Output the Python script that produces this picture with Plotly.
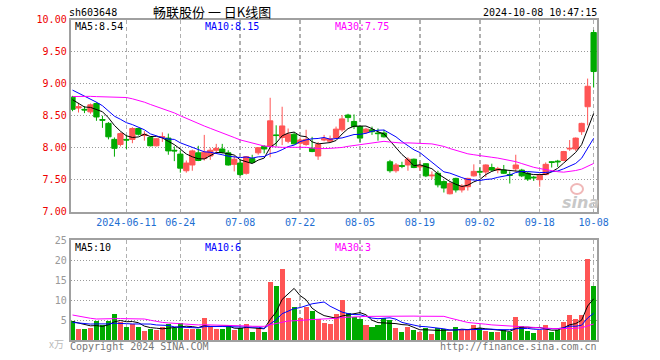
import plotly.graph_objects as go
import pandas as pd

W, H = 660, 360

# ---------------- data ----------------
holidays = ["2024-06-10", "2024-09-16", "2024-09-17", "2024-10-01", "2024-10-02",
            "2024-10-03", "2024-10-04", "2024-10-07"]
dates = [d.strftime("%Y-%m-%d") for d in pd.bdate_range("2024-05-28", "2024-10-08")
         if d.strftime("%Y-%m-%d") not in holidays]

opens = [8.79, 8.62, 8.60, 8.56, 8.69, 8.44, 8.38, 8.13, 8.05, 8.13,
         8.13, 8.30, 8.19, 8.16, 8.03, 8.16, 8.15, 7.96, 7.90, 7.64,
         7.73, 7.92, 7.83, 7.87, 7.96, 7.98, 7.92, 7.74, 7.76, 7.60,
         7.83, 7.92, 8.02, 8.02, 8.20, 8.16, 8.10, 8.21, 8.07, 8.05,
         7.99, 7.87, 8.12, 8.10, 8.15, 8.28, 8.51, 8.41, 8.33, 8.24,
         8.28, 8.23, 8.23, 7.78, 7.64, 7.72, 7.73, 7.82, 7.70, 7.75,
         7.56, 7.60, 7.47, 7.28, 7.52, 7.34, 7.39, 7.56, 7.63, 7.62,
         7.69, 7.65, 7.65, 7.58, 7.67, 7.65, 7.60, 7.54, 7.50, 7.58,
         7.78, 7.79, 7.80, 7.98, 7.98, 8.25, 8.64, 9.80]
highs = [8.81, 8.70, 8.65, 8.69, 8.71, 8.50, 8.40, 8.16, 8.24, 8.20,
         8.32, 8.31, 8.26, 8.18, 8.15, 8.24, 8.22, 8.02, 7.96, 7.80,
         7.97, 8.03, 8.20, 8.00, 8.06, 8.06, 7.96, 7.87, 7.82, 7.87,
         7.89, 8.01, 8.04, 8.78, 8.35, 8.64, 8.30, 8.24, 8.16, 8.28,
         8.17, 8.09, 8.20, 8.19, 8.33, 8.51, 8.53, 8.52, 8.34, 8.31,
         8.33, 8.30, 8.28, 7.81, 7.76, 7.78, 7.85, 7.83, 7.78, 7.76,
         7.63, 7.64, 7.49, 7.47, 7.53, 7.43, 7.53, 7.74, 7.69, 7.74,
         7.75, 7.70, 7.73, 7.63, 7.89, 7.67, 7.62, 7.56, 7.60, 7.77,
         7.79, 7.81, 7.95, 8.12, 8.16, 8.39, 9.08, 9.84]
lows = [8.57, 8.55, 8.54, 8.53, 8.42, 8.31, 8.13, 7.86, 8.02, 7.98,
        8.07, 8.19, 8.11, 8.02, 8.02, 8.09, 7.89, 7.79, 7.61, 7.61,
        7.64, 7.79, 7.80, 7.81, 7.92, 7.91, 7.72, 7.63, 7.56, 7.58,
        7.76, 7.89, 7.91, 7.85, 8.02, 8.04, 8.07, 8.05, 7.99, 8.03,
        7.93, 7.81, 8.10, 8.09, 8.14, 8.25, 8.40, 8.29, 8.09, 8.22,
        8.20, 8.11, 8.16, 7.61, 7.61, 7.68, 7.64, 7.68, 7.64, 7.54,
        7.51, 7.38, 7.30, 7.27, 7.30, 7.30, 7.33, 7.55, 7.57, 7.54,
        7.63, 7.60, 7.59, 7.44, 7.63, 7.54, 7.48, 7.48, 7.39, 7.57,
        7.69, 7.70, 7.79, 7.95, 7.95, 8.20, 8.35, 8.94]
closes = [8.60, 8.64, 8.59, 8.67, 8.48, 8.43, 8.17, 7.99, 8.22, 8.12,
          8.30, 8.21, 8.21, 8.03, 8.14, 8.17, 7.95, 7.95, 7.68, 7.76,
          7.95, 7.80, 7.93, 7.96, 7.99, 7.93, 7.73, 7.82, 7.58, 7.86,
          7.77, 8.00, 7.98, 8.42, 8.19, 8.34, 8.21, 8.06, 8.12, 8.13,
          7.94, 8.05, 8.14, 8.14, 8.29, 8.45, 8.47, 8.33, 8.15, 8.29,
          8.25, 8.22, 8.17, 7.64, 7.73, 7.71, 7.82, 7.69, 7.72, 7.56,
          7.57, 7.42, 7.37, 7.44, 7.34, 7.40, 7.52, 7.63, 7.62, 7.73,
          7.65, 7.67, 7.60, 7.57, 7.73, 7.56, 7.51, 7.53, 7.57, 7.74,
          7.77, 7.78, 7.94, 7.99, 8.15, 8.38, 8.96, 9.19]
volumes = [4.75, 2.75, 2.75, 3.0, 4.75, 3.75, 4.75, 6.5, 4.6, 3.25,
           4.0, 3.25, 2.25, 2.75, 2.5, 3.25, 4.0, 3.0, 4.25, 2.75,
           2.75, 2.75, 5.5, 3.3, 2.75, 2.75, 3.5, 2.5, 3.0, 4.0,
           2.0, 3.0, 2.0, 14.5, 13.5, 17.75, 10.5, 8.25, 5.5, 8.25,
           7.25, 5.25, 4.25, 4.0, 6.5, 10.0, 6.75, 5.75, 5.25, 3.75,
           3.25, 3.75, 5.5, 5.0, 3.0, 2.0, 3.25, 2.5, 2.0, 3.0,
           1.5, 3.0, 2.75, 2.0, 3.25, 2.5, 2.5, 3.75, 3.0, 2.25,
           2.0, 2.0, 2.5, 2.0, 5.75, 3.5, 2.25, 1.75, 2.5, 3.75,
           2.0, 2.5, 4.5, 6.25, 5.25, 6.25, 20.25, 13.5]

# sessions before the visible window (needed for the moving averages)
prior_closes = [8.55, 8.62, 8.66, 8.60, 8.50, 8.40, 8.25, 8.05, 8.16,
                8.90, 8.95, 9.05, 9.10, 9.12, 9.05, 8.98, 9.02, 9.00, 9.04, 9.00,
                9.10, 9.12, 9.05, 9.00, 8.98,
                8.95, 8.85, 8.70, 8.65]
prior_volumes = [12.0, 11.0, 10.0, 10.25,
                 4.5, 4.0, 3.8, 4.2, 3.9, 4.0, 3.95, 4.0,
                 12.0, 11.5, 10.5,
                 8.0, 7.0, 6.5, 6.4, 6.0,
                 4.5, 4.2, 4.0, 4.3, 4.0,
                 4.5, 4.8, 4.5, 4.45]

tick_dates = ["2024-06-11", "2024-06-24", "2024-07-08", "2024-07-22", "2024-08-05",
              "2024-08-19", "2024-09-02", "2024-09-18", "2024-10-08"]
tick_labels = ["2024-06-11", "06-24", "07-08", "07-22", "08-05", "08-19", "09-02", "09-18", "10-08"]
price_ticks = [7.0, 7.5, 8.0, 8.5, 9.0, 9.5, 10.0]
price_tick_labels = ["7.00", "7.50", "8.00", "8.50", "9.00", "9.50", "10.00"]
vol_ticks = [5, 10, 15, 20, 25]
vol_tick_labels = ["5", "10", "15", "20", "25"]

stock_code = "sh603648"
chart_title = "畅联股份 一 日K线图"
timestamp = "2024-10-08 10:47:15"
price_ma_labels = ["MA5:8.54", "MA10:8.15", "MA30:7.75"]
vol_ma_labels = ["MA5:10", "MA10:6", "MA30:3"]

# ---------------- helpers ----------------
def moving_average(prior, values, n):
    full = list(prior) + list(values)
    k = len(prior)
    out = []
    for i in range(len(values)):
        seg = full[k + i - n + 1: k + i + 1]
        out.append(sum(seg) / len(seg))
    return out

idx = list(range(len(dates)))
tick_idx = [dates.index(d) for d in tick_dates]

RED = "#ff5555"
GREEN = "#00aa00"
MA_COLORS = ["#000000", "#0000ff", "#ff00ff"]
MONO = "DejaVu Sans Mono"

X0, X1 = 70.7, 597.0
PY_TOP, PY_BOT = 19.7, 211.7
VY_TOP, VY_BOT = 240.0, 340.0

def px(x):
    return x / W

def py(y):
    return 1 - y / H

fig = go.Figure()

fig.add_trace(go.Candlestick(
    x=idx, open=opens, high=highs, low=lows, close=closes,
    increasing=dict(line=dict(color=RED, width=1), fillcolor=RED),
    decreasing=dict(line=dict(color=GREEN, width=1), fillcolor=GREEN),
    whiskerwidth=0, hoverinfo="skip", showlegend=False,
    xaxis="x", yaxis="y"))

for n, col in zip([5, 10, 30], MA_COLORS):
    fig.add_trace(go.Scatter(x=idx, y=moving_average(prior_closes, closes, n), mode="lines",
                             line=dict(color=col, width=1), hoverinfo="skip",
                             showlegend=False, xaxis="x", yaxis="y"))

bar_colors = [RED if c >= o else GREEN for o, c in zip(opens, closes)]
fig.add_trace(go.Bar(x=idx, y=volumes, marker=dict(color=bar_colors, line=dict(width=0)),
                     width=0.84, hoverinfo="skip", showlegend=False, xaxis="x2", yaxis="y2"))

for n, col in zip([5, 10, 30], MA_COLORS):
    fig.add_trace(go.Scatter(x=idx, y=moving_average(prior_volumes, volumes, n), mode="lines",
                             line=dict(color=col, width=1), hoverinfo="skip",
                             showlegend=False, xaxis="x2", yaxis="y2"))

xr = [(X0 - 72.5) / 5.99, (X1 - 72.5) / 5.99]
common_x = dict(range=xr, domain=[px(X0), px(X1)], showgrid=True, gridcolor="#b0b0b0",
                gridwidth=1.5, griddash="4px,3px", tickvals=tick_idx, zeroline=False,
                showline=True, mirror=True, linecolor="#a0a0a0", linewidth=2, ticks="",
                fixedrange=True, automargin=False)
common_y = dict(showgrid=True, gridcolor="#999999", gridwidth=1, griddash="1px,2px",
                zeroline=False, showline=True, mirror=True, linecolor="#a0a0a0",
                linewidth=2, ticks="", fixedrange=True, automargin=False)

fig.update_layout(
    width=W, height=H, autosize=False, margin=dict(l=0, r=0, t=0, b=0, pad=0),
    paper_bgcolor="white", plot_bgcolor="white",
    boxgap=0.12, boxgroupgap=0,
    bargap=0,
    xaxis=dict(**common_x, anchor="y", ticktext=tick_labels,
               tickfont=dict(family=MONO, size=10, color="#1e6ed2"),
               rangeslider=dict(visible=False)),
    yaxis=dict(**common_y, domain=[py(PY_BOT), py(PY_TOP)], range=[7, 10],
               tickvals=price_ticks, ticktext=price_tick_labels,
               tickfont=dict(family=MONO, size=10, color="#ee0000")),
    xaxis2=dict(**common_x, anchor="y2", showticklabels=False),
    yaxis2=dict(**common_y, domain=[py(VY_BOT), py(VY_TOP)], range=[0, 25],
                tickvals=vol_ticks, ticktext=vol_tick_labels,
                tickfont=dict(family=MONO, size=10, color="#999999")),
)

def note(text, x, y, anchor="left", color="#000000", size=10, family=MONO):
    fig.add_annotation(text=text, x=px(x), y=py(y), xref="paper", yref="paper",
                       xanchor=anchor, yanchor="middle", showarrow=False,
                       font=dict(family=family, size=size, color=color), borderpad=0)

note(stock_code, 68, 13)
note(chart_title, 212, 11, anchor="center", size=13, family="Noto Sans CJK SC")
note(timestamp, 598, 13, anchor="right")
for lab, xx, col in zip(price_ma_labels, [74, 204, 334], MA_COLORS):
    note(lab, xx, 27, color=col)
for lab, xx, col in zip(vol_ma_labels, [74, 204, 334], MA_COLORS):
    note(lab, xx, 247, color=col)
note("Copyright 2024 SINA.COM", 69, 346, color="#777777")
note("http://finance.sina.com.cn", 598, 346, anchor="right", color="#777777")
note("x万", 65, 343, anchor="right", color="#bbbbbb", size=10, family="Noto Sans CJK SC")
note("<b><i>sina</i></b>", 580, 202, anchor="center", color="#c8c8c8", size=16, family="DejaVu Sans")
fig.add_shape(type="circle", xref="paper", yref="paper",
              x0=px(571), x1=px(583), y0=py(194), y1=py(184),
              line=dict(color="#f0b8b8", width=2), fillcolor="rgba(0,0,0,0)")

fig.write_html("out.html",
               config={"displayModeBar": False, "staticPlot": True},
               post_script="document.body.style.margin='0';document.body.style.padding='0';"
                           "document.documentElement.style.overflow='hidden';")
